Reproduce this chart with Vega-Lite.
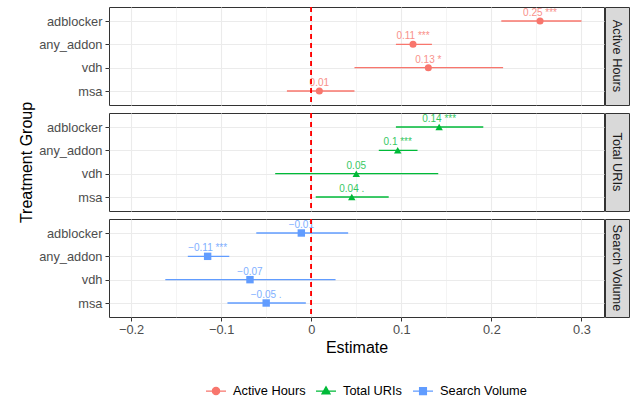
{
  "$schema": "https://vega.github.io/schema/vega-lite/v6.json",
  "padding": {"left": 18, "top": 5, "right": 5, "bottom": 5},
  "config": {
    "font": "Liberation Sans",
    "view": {"stroke": "#333333", "strokeWidth": 1},
    "legend": {"orient": "none", "legendX": 96, "legendY": 373, "direction": "horizontal", "labelFontSize": 12.8, "labelColor": "#000000", "symbolSize": 400, "columnPadding": 7, "labelOffset": 6}
  },
  "data": {"values": [
    {"metric": "Active Hours", "group": "adblocker", "est": 0.254, "lo": 0.211, "hi": 0.300, "label": "0.25 ***"},
    {"metric": "Active Hours", "group": "any_addon", "est": 0.113, "lo": 0.094, "hi": 0.134, "label": "0.11 ***"},
    {"metric": "Active Hours", "group": "vdh", "est": 0.130, "lo": 0.048, "hi": 0.213, "label": "0.13 *"},
    {"metric": "Active Hours", "group": "msa", "est": 0.009, "lo": -0.027, "hi": 0.048, "label": "0.01"},
    {"metric": "Total URIs", "group": "adblocker", "est": 0.142, "lo": 0.094, "hi": 0.191, "label": "0.14 ***"},
    {"metric": "Total URIs", "group": "any_addon", "est": 0.096, "lo": 0.075, "hi": 0.118, "label": "0.1 ***"},
    {"metric": "Total URIs", "group": "vdh", "est": 0.050, "lo": -0.040, "hi": 0.141, "label": "0.05"},
    {"metric": "Total URIs", "group": "msa", "est": 0.045, "lo": 0.005, "hi": 0.086, "label": "0.04 ."},
    {"metric": "Search Volume", "group": "adblocker", "est": -0.011, "lo": -0.061, "hi": 0.041, "label": "−0.01"},
    {"metric": "Search Volume", "group": "any_addon", "est": -0.115, "lo": -0.137, "hi": -0.091, "label": "−0.11 ***"},
    {"metric": "Search Volume", "group": "vdh", "est": -0.068, "lo": -0.162, "hi": 0.027, "label": "−0.07"},
    {"metric": "Search Volume", "group": "msa", "est": -0.050, "lo": -0.093, "hi": -0.006, "label": "−0.05 ."}
  ]},
  "columns": 2,
  "spacing": {"row": 8, "column": 1},
  "bounds": "flush",
  "resolve": {"scale": {"color": "shared", "x": "independent"}},
  "concat": [
    {
      "width": 495, "height": 98,
      "transform": [{"filter": "datum.metric == 'Active Hours'"}],
      "layer": [
        {"mark": {"type": "rule", "strokeWidth": 1.3},
         "encoding": {
           "x": {"field": "lo", "type": "quantitative", "scale": {"domain": [-0.2245, 0.325], "nice": false, "zero": false},
                 "axis": {"values": [-0.2, -0.15, -0.1, -0.05, 0, 0.05, 0.1, 0.15, 0.2, 0.25, 0.3], "labels": false, "ticks": false, "domain": false, "title": null, "grid": true, "gridColor": "#EBEBEB", "gridWidth": {"condition": {"test": "abs(datum.value*10 - round(datum.value*10)) > 0.01", "value": 0.55}, "value": 1.1}}},
           "x2": {"field": "hi"},
           "y": {"field": "group", "type": "nominal", "sort": ["adblocker", "any_addon", "vdh", "msa"], "scale": {"type": "point", "padding": 0.6},
                 "axis": {"title": null, "labelFontSize": 12.8, "labelColor": "#4D4D4D", "tickColor": "#333333", "tickSize": 4, "labelPadding": 3, "domain": false, "grid": true, "gridColor": "#EBEBEB", "gridWidth": 1.1}},
           "color": {"field": "metric", "type": "nominal", "scale": {"domain": ["Active Hours", "Total URIs", "Search Volume"], "range": ["#F8766D", "#00BA38", "#619CFF"]},
                     "legend": {"title": null, "encoding": {"symbols": {
                        "shape": {"value": {"expr": "datum.value === 'Active Hours' ? 'M-1,0H1M0.36,0A0.36,0.36 0 1 1 -0.36,0A0.36,0.36 0 1 1 0.36,0Z' : datum.value === 'Total URIs' ? 'M-1,0H1M0,-0.42L0.4,0.28L-0.4,0.28Z' : 'M-1,0H1M-0.34,-0.34H0.34V0.34H-0.34Z'"}},
                        "fill": {"value": {"expr": "datum.value === 'Active Hours' ? '#F8766D' : datum.value === 'Total URIs' ? '#00BA38' : '#619CFF'"}},
                        "stroke": {"value": {"expr": "datum.value === 'Active Hours' ? '#F8766D' : datum.value === 'Total URIs' ? '#00BA38' : '#619CFF'"}},
                        "strokeWidth": {"value": 1.3},
                        "opacity": {"value": 1}}}}}
         }},
        {"mark": {"type": "point", "shape": "circle", "filled": true, "size": 50, "opacity": 1},
         "encoding": {
           "x": {"field": "est", "type": "quantitative"},
           "y": {"field": "group", "type": "nominal", "sort": ["adblocker", "any_addon", "vdh", "msa"]},
           "color": {"field": "metric", "type": "nominal"}
         }},
        {"mark": {"type": "text", "fontSize": 10, "dy": -8, "opacity": 0.8},
         "encoding": {
           "x": {"field": "est", "type": "quantitative"},
           "y": {"field": "group", "type": "nominal", "sort": ["adblocker", "any_addon", "vdh", "msa"]},
           "text": {"field": "label"},
           "color": {"field": "metric", "type": "nominal"}
         }},
        {"mark": {"type": "rule", "color": "#FF0000", "strokeDash": [5, 4], "strokeWidth": 1.3},
         "encoding": {"x": {"datum": 0}}}
      ]
    },
    {
      "width": 24, "height": 98,
      "view": {"fill": "#D9D9D9", "stroke": "#333333"},
      "transform": [{"filter": "datum.metric == 'Active Hours'"}, {"aggregate": [{"op": "count", "as": "n"}], "groupby": ["metric"]}],
      "mark": {"type": "text", "angle": 90, "fontSize": 12.8, "color": "#1A1A1A", "baseline": "middle", "align": "center"},
      "encoding": {
        "text": {"field": "metric"},
        "x": {"datum": 0.5, "type": "quantitative", "scale": {"domain": [0, 1]}, "axis": null},
        "y": {"datum": 0.5, "type": "quantitative", "scale": {"domain": [0, 1]}, "axis": null}
      }
    },
    {
      "width": 495, "height": 98,
      "transform": [{"filter": "datum.metric == 'Total URIs'"}],
      "layer": [
        {"mark": {"type": "rule", "strokeWidth": 1.3},
         "encoding": {
           "x": {"field": "lo", "type": "quantitative", "scale": {"domain": [-0.2245, 0.325], "nice": false, "zero": false},
                 "axis": {"values": [-0.2, -0.15, -0.1, -0.05, 0, 0.05, 0.1, 0.15, 0.2, 0.25, 0.3], "labels": false, "ticks": false, "domain": false, "title": null, "grid": true, "gridColor": "#EBEBEB", "gridWidth": {"condition": {"test": "abs(datum.value*10 - round(datum.value*10)) > 0.01", "value": 0.55}, "value": 1.1}}},
           "x2": {"field": "hi"},
           "y": {"field": "group", "type": "nominal", "sort": ["adblocker", "any_addon", "vdh", "msa"], "scale": {"type": "point", "padding": 0.6},
                 "axis": {"title": "Treatment Group", "titleFontSize": 16, "titleFontWeight": "normal", "titleColor": "#000000", "titlePadding": 4, "labelFontSize": 12.8, "labelColor": "#4D4D4D", "tickColor": "#333333", "tickSize": 4, "labelPadding": 3, "domain": false, "grid": true, "gridColor": "#EBEBEB", "gridWidth": 1.1}},
           "color": {"field": "metric", "type": "nominal"}
         }},
        {"mark": {"type": "point", "shape": "triangle-up", "filled": true, "size": 55, "opacity": 1},
         "encoding": {
           "x": {"field": "est", "type": "quantitative"},
           "y": {"field": "group", "type": "nominal", "sort": ["adblocker", "any_addon", "vdh", "msa"]},
           "color": {"field": "metric", "type": "nominal"}
         }},
        {"mark": {"type": "text", "fontSize": 10, "dy": -8, "opacity": 0.8},
         "encoding": {
           "x": {"field": "est", "type": "quantitative"},
           "y": {"field": "group", "type": "nominal", "sort": ["adblocker", "any_addon", "vdh", "msa"]},
           "text": {"field": "label"},
           "color": {"field": "metric", "type": "nominal"}
         }},
        {"mark": {"type": "rule", "color": "#FF0000", "strokeDash": [5, 4], "strokeWidth": 1.3},
         "encoding": {"x": {"datum": 0}}}
      ]
    },
    {
      "width": 24, "height": 98,
      "view": {"fill": "#D9D9D9", "stroke": "#333333"},
      "transform": [{"filter": "datum.metric == 'Total URIs'"}, {"aggregate": [{"op": "count", "as": "n"}], "groupby": ["metric"]}],
      "mark": {"type": "text", "angle": 90, "fontSize": 12.8, "color": "#1A1A1A", "baseline": "middle", "align": "center"},
      "encoding": {
        "text": {"field": "metric"},
        "x": {"datum": 0.5, "type": "quantitative", "scale": {"domain": [0, 1]}, "axis": null},
        "y": {"datum": 0.5, "type": "quantitative", "scale": {"domain": [0, 1]}, "axis": null}
      }
    },
    {
      "width": 495, "height": 98,
      "transform": [{"filter": "datum.metric == 'Search Volume'"}],
      "layer": [
        {"mark": {"type": "rule", "strokeWidth": 1.3},
         "encoding": {
           "x": {"field": "lo", "type": "quantitative", "scale": {"domain": [-0.2245, 0.325], "nice": false, "zero": false},
                 "axis": {"values": [-0.2, -0.15, -0.1, -0.05, 0, 0.05, 0.1, 0.15, 0.2, 0.25, 0.3], "format": "~g", "labelExpr": "abs(datum.value*10 - round(datum.value*10)) > 0.01 ? '' : datum.label", "labelFontSize": 12.8, "labelColor": "#4D4D4D", "tickColor": "#333333", "tickSize": 4, "tickOpacity": {"condition": {"test": "abs(datum.value*10 - round(datum.value*10)) > 0.01", "value": 0}, "value": 1}, "labelPadding": 2, "domain": false, "title": "Estimate", "titleFontSize": 16, "titleFontWeight": "normal", "titleColor": "#000000", "titlePadding": 4, "grid": true, "gridColor": "#EBEBEB", "gridWidth": {"condition": {"test": "abs(datum.value*10 - round(datum.value*10)) > 0.01", "value": 0.55}, "value": 1.1}}},
           "x2": {"field": "hi"},
           "y": {"field": "group", "type": "nominal", "sort": ["adblocker", "any_addon", "vdh", "msa"], "scale": {"type": "point", "padding": 0.6},
                 "axis": {"title": null, "labelFontSize": 12.8, "labelColor": "#4D4D4D", "tickColor": "#333333", "tickSize": 4, "labelPadding": 3, "domain": false, "grid": true, "gridColor": "#EBEBEB", "gridWidth": 1.1}},
           "color": {"field": "metric", "type": "nominal"}
         }},
        {"mark": {"type": "point", "shape": "square", "filled": true, "size": 55, "opacity": 1},
         "encoding": {
           "x": {"field": "est", "type": "quantitative"},
           "y": {"field": "group", "type": "nominal", "sort": ["adblocker", "any_addon", "vdh", "msa"]},
           "color": {"field": "metric", "type": "nominal"}
         }},
        {"mark": {"type": "text", "fontSize": 10, "dy": -8, "opacity": 0.8},
         "encoding": {
           "x": {"field": "est", "type": "quantitative"},
           "y": {"field": "group", "type": "nominal", "sort": ["adblocker", "any_addon", "vdh", "msa"]},
           "text": {"field": "label"},
           "color": {"field": "metric", "type": "nominal"}
         }},
        {"mark": {"type": "rule", "color": "#FF0000", "strokeDash": [5, 4], "strokeWidth": 1.3},
         "encoding": {"x": {"datum": 0}}}
      ]
    },
    {
      "width": 24, "height": 98,
      "view": {"fill": "#D9D9D9", "stroke": "#333333"},
      "transform": [{"filter": "datum.metric == 'Search Volume'"}, {"aggregate": [{"op": "count", "as": "n"}], "groupby": ["metric"]}],
      "mark": {"type": "text", "angle": 90, "fontSize": 12.8, "color": "#1A1A1A", "baseline": "middle", "align": "center"},
      "encoding": {
        "text": {"field": "metric"},
        "x": {"datum": 0.5, "type": "quantitative", "scale": {"domain": [0, 1]}, "axis": null},
        "y": {"datum": 0.5, "type": "quantitative", "scale": {"domain": [0, 1]}, "axis": null}
      }
    }
  ]
}
